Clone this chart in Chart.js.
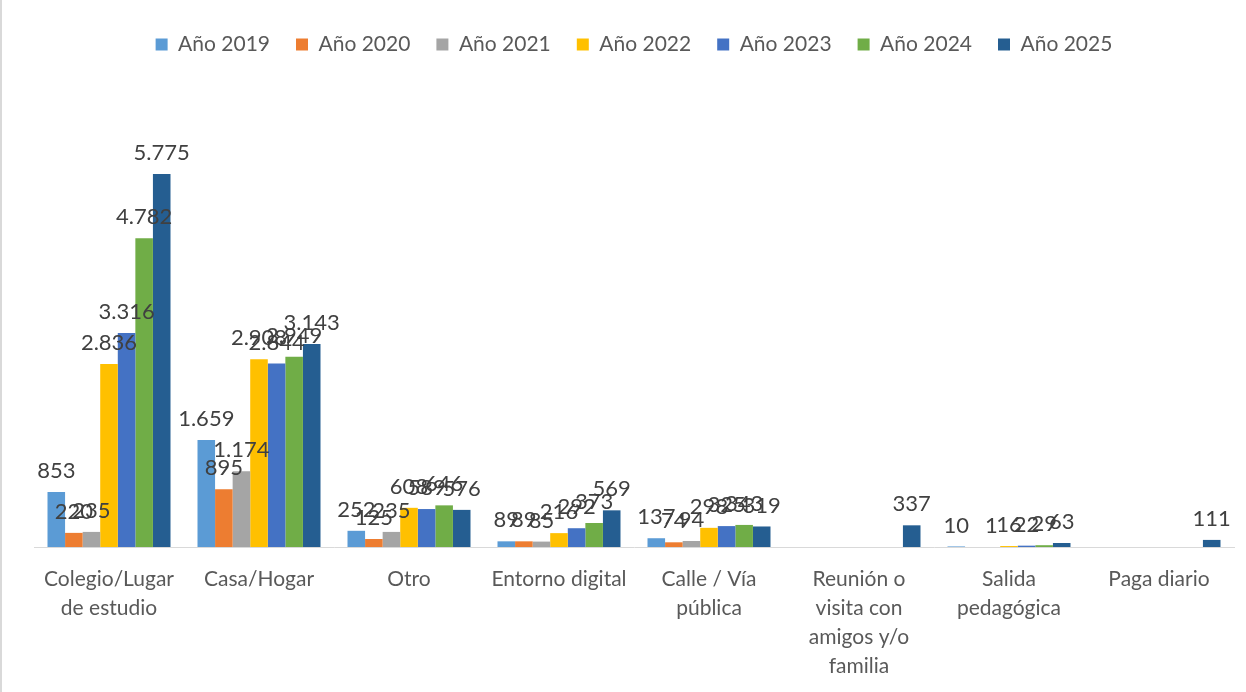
<!DOCTYPE html>
<html>
<head>
<meta charset="utf-8">
<script src="https://cdn.jsdelivr.net/npm/chart.js@4.4.1/dist/chart.umd.min.js"></script>
<style>
  html, body { margin: 0; padding: 0; background: #fff; }
  #wrap { position: relative; width: 1246px; height: 692px; box-sizing: border-box; border-left: 2px solid #d9d9d9; }
</style>
</head>
<body>
<div id="wrap"><canvas id="chart"></canvas></div>
<script>
// categories (multi-line labels as on the x axis)
const categories = [
  ["Colegio/Lugar", "de estudio"],
  ["Casa/Hogar"],
  ["Otro"],
  ["Entorno digital"],
  ["Calle / Vía", "pública"],
  ["Reunión o", "visita con", "amigos y/o", "familia"],
  ["Salida", "pedagógica"],
  ["Paga diario"]
];

const seriesNames = ["Año 2019", "Año 2020", "Año 2021", "Año 2022", "Año 2023", "Año 2024", "Año 2025"];

const y2019 = [853, 1659, 252, 89, 137, null, 10, null];
const y2020 = [220, 895, 125, 89, 74, null, null, null];
const y2021 = [235, 1174, 235, 85, 94, null, 1, null];
const y2022 = [2836, 2908, 608, 216, 298, null, 16, null];
const y2023 = [3316, 2844, 589, 292, 325, null, 22, null];
const y2024 = [4782, 2949, 646, 373, 343, null, 29, null];
const y2025 = [5775, 3143, 576, 569, 319, 337, 63, 111];

const colors = ["#5B9BD5", "#ED7D31", "#A5A5A5", "#FFC000", "#4472C4", "#70AD47", "#255E91"];

const FONT = "Lato, 'Liberation Sans', sans-serif";

function fmt(v) {
  return String(v).replace(/\B(?=(\d{3})+(?!\d))/g, ".");
}

// draws the value above each bar
const valueLabels = {
  id: "valueLabels",
  afterDatasetsDraw(chart) {
    const ctx = chart.ctx;
    ctx.save();
    ctx.font = "22px " + FONT;
    ctx.fillStyle = "#404040";
    ctx.textAlign = "center";
    ctx.textBaseline = "bottom";
    chart.data.datasets.forEach((ds, i) => {
      const meta = chart.getDatasetMeta(i);
      meta.data.forEach((bar, j) => {
        const v = ds.data[j];
        if (v === null || v === undefined) return;
        ctx.fillText(fmt(v), bar.x, bar.y - 10);
      });
    });
    ctx.restore();
  }
};

// extra room between legend and plot
const legendMargin = {
  id: "legendMargin",
  beforeInit(chart) {
    const origFit = chart.legend.fit;
    chart.legend.fit = function () {
      origFit.bind(chart.legend)();
      this.height += 30;
    };
  }
};

const allSeries = [y2019, y2020, y2021, y2022, y2023, y2024, y2025];

new Chart(document.getElementById("chart"), {
  type: "bar",
  data: {
    labels: categories,
    datasets: allSeries.map((d, i) => ({
      label: seriesNames[i],
      data: d,
      backgroundColor: colors[i],
      borderWidth: 0,
      barPercentage: 1,
      categoryPercentage: 0.82
    }))
  },
  plugins: [valueLabels, legendMargin],
  options: {
    responsive: true,
    maintainAspectRatio: false,
    animation: false,
    layout: { padding: { left: 32, right: 12, top: 8, bottom: 1 } },
    plugins: {
      legend: {
        position: "top",
        labels: {
          boxWidth: 12,
          boxHeight: 12,
          padding: 26,
          color: "#595959",
          font: { family: FONT, size: 21 }
        }
      },
      tooltip: { enabled: false }
    },
    scales: {
      x: {
        grid: { display: false },
        border: { color: "#d9d9d9", width: 1 },
        ticks: {
          color: "#595959",
          font: { family: FONT, size: 21, lineHeight: 1.38 },
          padding: 10,
          maxRotation: 0,
          autoSkip: false
        }
      },
      y: {
        display: false,
        min: 0,
        max: 7000
      }
    }
  }
});
</script>
</body>
</html>
